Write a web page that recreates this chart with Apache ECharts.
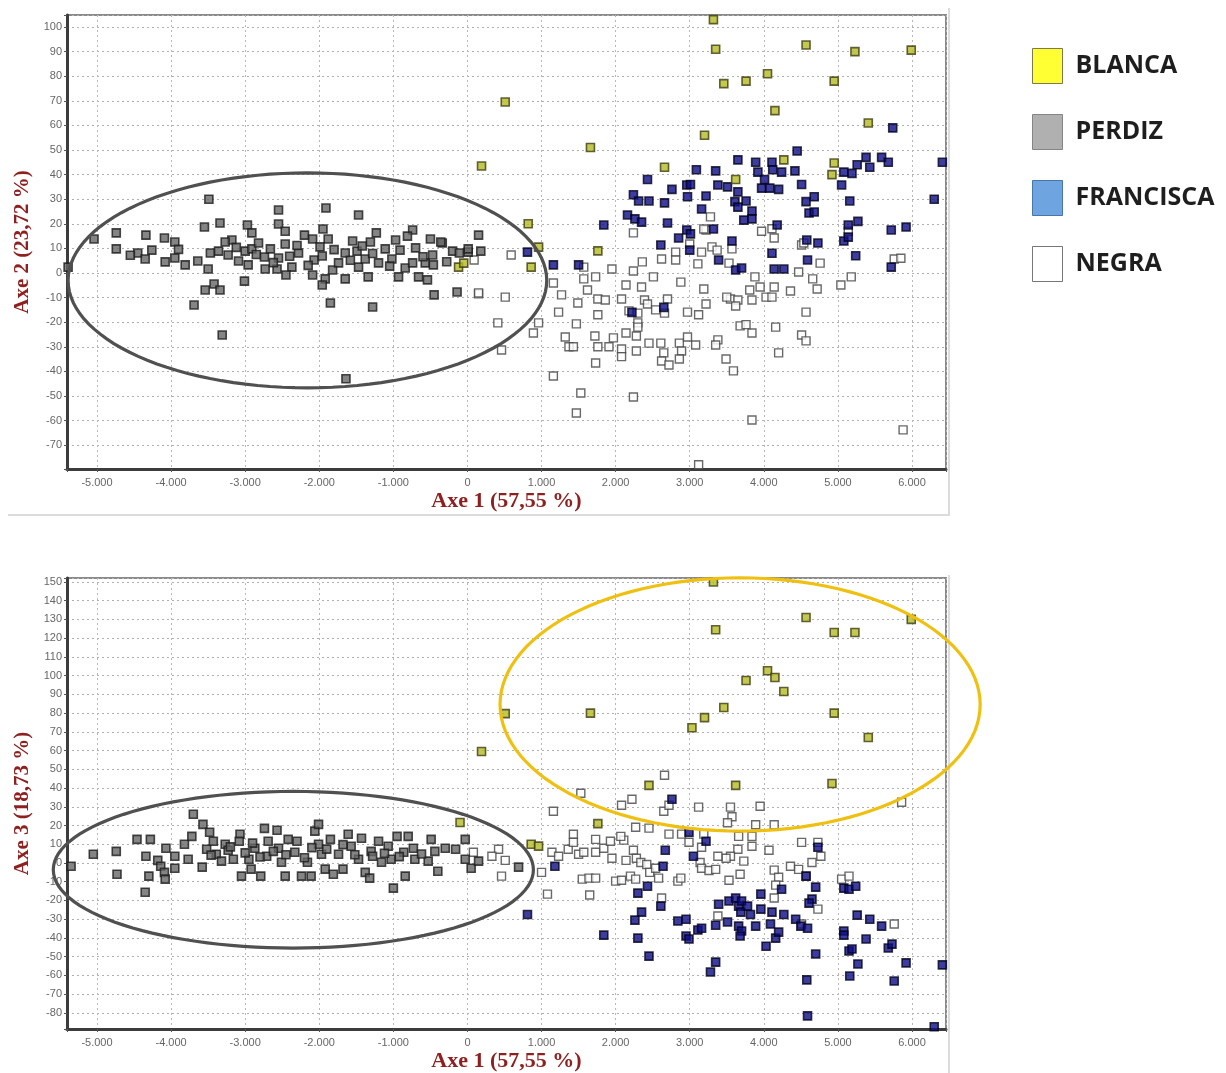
<!DOCTYPE html>
<html>
<head>
<meta charset="utf-8">
<script src="https://cdn.jsdelivr.net/npm/echarts@6/dist/echarts.min.js"></script>
<style>
html,body{margin:0;padding:0;background:#fff;}
#chart{width:1226px;height:1073px;}
</style>
</head>
<body>
<div id="chart"></div>
<script>
// ---------- DATA ----------
const categories = ['BLANCA', 'PERDIZ', 'FRANCISCA', 'NEGRA'];
const axisNames = ['Axe 1 (57,55 %)', 'Axe 2 (23,72 %)', 'Axe 3 (18,73 %)'];
const xTicks = [-5, -4, -3, -2, -1, 0, 1, 2, 3, 4, 5, 6];

// Axe 1 vs Axe 2 (top panel)
const blancaAxe12 = [
  [3.32,103],[3.35,91],[4.57,92.7],[5.23,90],[5.99,90.6],[3.46,77],[3.76,78],[4.05,81],
  [4.95,78],[4.15,66],[5.41,61],[3.20,56],[0.51,69.5],[1.66,51],[0.19,43.5],[2.66,43],
  [4.27,46],[4.95,44.7],[4.92,40],[3.62,38],[0.82,20],[1.76,9],[0.96,10.5],[-0.12,2.4],
  [-0.05,4],[0.86,2.4]
];
const perdizAxe12 = [
  [-3.49,30],[-2.55,25.6],[-1.91,26.4],[-1.47,23.6],[0.15,15.4],[-4.74,16.3],[-4.74,9.8],
  [-5.04,13.8],[-4.34,15.4],[-4.09,14.2],[-3.95,12.6],[-3.55,18.7],[-3.34,20.3],[-2.55,19.9],
  [-2.46,17],[-2.97,19.5],[-2.91,16.3],[-1.95,17.9],[-1.88,13.8],[-1.23,16.3],[-0.74,17.5],
  [-0.81,15],[-0.5,13.8],[-0.34,12.2],[-0.2,8.9],[0.01,8.5],[-4.45,8.1],[-4.35,5.7],
  [-4.26,9.3],[-4.08,4.5],[-3.95,6.1],[-3.81,3.3],[-3.64,4.9],[-3.5,1.6],[-3.47,8.1],
  [-3.36,8.9],[-3.23,7.3],[-3.18,13.4],[-3.27,12.6],[-3.09,4.9],[-2.96,3.3],[-3.0,8.9],
  [-2.91,9.8],[-2.82,12.2],[-2.74,6.5],[-2.73,1.6],[-2.66,9.8],[-2.57,1.6],[-2.55,6.1],
  [-2.46,11.8],[-2.37,2.4],[-2.45,-0.8],[-2.28,8.1],[-2.2,15.4],[-2.09,13.8],[-2.07,5.3],
  [-2.09,-0.8],[-1.99,10.6],[-1.96,6.9],[-1.92,-2.4],[-1.96,-4.9],[-1.82,1.2],[-1.74,4.1],
  [-1.65,-2.4],[-1.65,8.1],[-1.55,13],[-1.49,8.9],[-1.47,2.4],[-1.38,5.7],[-1.34,-1.6],
  [-1.31,12.6],[-1.2,4.1],[-1.11,9.8],[-1.02,5.7],[-0.97,13.4],[-0.93,-1.6],[-0.91,9.3],
  [-0.84,2],[-0.74,4.1],[-0.66,-1.6],[-0.57,4.1],[-0.54,-2.8],[-0.47,7.3],[-0.46,3.3],
  [-0.36,12.6],[-0.11,8.1],[0.01,9.8],[0.18,8.9],[-0.45,-8.9],[-0.14,-7.7],[-1.28,-13.8],
  [-1.85,-12.2],[-3.01,-3.3],[-3.54,-6.9],[-3.42,-4.5],[-3.34,-6.9],[-3.69,-13],[-3.31,-25.2],
  [-1.64,-43],[-5.39,2.4],[-2.85,7.5],[-2.62,4.2],[-2.4,6.8],[-2.15,3.1],[-1.8,9.5],
  [-1.58,5.2],[-1.28,7.9],[-1.05,2.8],[-0.7,10.2],[-0.28,4.6],[-3.12,10.4],[-2.3,11.2],
  [-1.42,11.0],[-0.6,6.6],[-4.55,7.2],[-3.9,9.6]
];
const franciscaAxe12 = [
  [5.74,59],[4.45,49.6],[3.65,46],[3.89,45],[4.11,45],[5.38,47],[5.59,47],[5.68,45],[6.41,45],
  [5.26,44],[5.43,43],[3.09,42],[3.35,41.5],[3.92,41],[4.12,42],[4.24,41],[4.42,41.5],[5.08,41],
  [5.19,40.5],[2.43,38],[4.01,38],[4.51,36],[5.05,35.8],[2.76,34],[2.96,35.8],[3.01,36],
  [3.38,35.8],[3.51,35],[3.97,34.5],[4.08,34.5],[4.20,34],[3.65,33],[2.24,31.8],[2.31,29.3],
  [2.45,29.3],[2.66,28.5],[2.97,31],[3.22,31.3],[3.61,29],[3.76,29.3],[3.65,26.8],[4.57,29],
  [4.68,31],[5.16,29.3],[6.30,30],[3.16,26],[3.84,25.2],[4.61,24.4],[4.68,24.8],[2.16,23.6],
  [2.26,22],[2.35,20.7],[2.70,20.3],[3.73,21.5],[3.84,22],[4.18,19.5],[5.14,19.5],[5.27,21],
  [5.92,18.7],[5.72,17.5],[1.84,19.5],[2.85,14.2],[2.96,17.5],[3.01,15.9],[3.32,17.9],
  [3.57,13],[2.61,11.4],[4.58,13.4],[4.73,12.2],[5.08,13],[5.14,14.6],[3.0,9.3],[4.11,8],
  [4.59,5.3],[5.24,7],[5.72,2.4],[3.39,5.3],[3.62,1.2],[3.70,2],[4.14,1.6],[4.27,1.6],
  [1.16,3.3],[1.50,3.3],[0.81,8.5],[2.65,-14],[2.22,-16]
];
const negraAxe12 = [
  [2.24,16.3],[3.28,22.8],[3.22,17.5],[4.14,14.2],[3.0,11.8],[3.30,10.6],[3.37,9.3],[3.57,9.8],
  [3.16,8.5],[2.81,8.5],[2.62,5.7],[2.81,5.3],[3.11,3.7],[3.53,4],[4.51,11.4],[4.76,4],
  [5.76,5.7],[0.59,7.3],[0.09,5.3],[2.36,4.5],[1.95,1.6],[2.24,0.8],[1.57,2.4],[2.51,-1.6],
  [2.88,-3.7],[3.88,-1.6],[4.14,-5.7],[4.47,0.4],[4.66,-2.4],[5.18,-1.6],[5.04,-4.9],
  [4.72,-6.5],[4.36,-7.3],[3.95,-5.7],[3.81,-6.9],[4.03,-9.8],[4.11,-9.8],[3.55,-10.6],
  [3.65,-11],[3.84,-11],[3.50,-9.8],[3.19,-6.5],[2.35,-5.7],[2.14,-4.9],[1.73,-1.6],
  [1.57,-2.4],[1.27,-8.9],[1.16,-4.1],[1.49,-12.2],[1.62,-6.9],[1.76,-10.6],[1.86,-11],
  [2.08,-10.6],[2.39,-11],[2.43,-12.6],[2.70,-10.6],[2.54,-15],[2.66,-16.3],[2.30,-16.3],
  [2.18,-15.4],[2.97,-15.9],[3.12,-17],[3.22,-12.6],[3.62,-13.4],[4.57,-15.9],[1.23,-15.9],
  [1.76,-17],[1.47,-20.7],[2.30,-20.3],[2.30,-22],[0.96,-20.3],[0.89,-24.4],[0.51,-9.8],
  [0.15,-8.5],[0.41,-20.3],[0.46,-31.3],[1.32,-26],[1.37,-30],[1.43,-30],[1.72,-25.6],
  [1.76,-30],[1.91,-30],[1.97,-26.4],[2.08,-30.9],[2.08,-34],[2.14,-24.4],[2.28,-31.7],
  [2.28,-25.6],[2.45,-28.5],[2.61,-28.5],[2.65,-32.5],[2.62,-35.8],[2.72,-37.4],[2.86,-28.5],
  [2.89,-31.7],[2.86,-35],[2.97,-26],[3.08,-29.3],[3.38,-27.2],[3.35,-29.3],[3.49,-35],
  [3.59,-39.8],[1.73,-36.6],[4.20,-32.5],[4.16,-22],[3.84,-24.4],[3.68,-21.5],[3.76,-21],
  [4.51,-25.2],[4.57,-27.6],[1.16,-41.9],[1.53,-48.8],[2.24,-50.4],[1.47,-56.9],[3.84,-59.8],
  [5.88,-63.8],[3.12,-78],[4.11,18],[3.97,17],[3.19,17.9],[5.14,17],[4.54,12.2],[5.85,6],
  [0.15,-8.1]
];

// Axe 1 vs Axe 3 (bottom panel)
const blancaAxe13 = [
  [3.32,150],[4.57,131],[5.99,130],[3.35,124.5],[4.95,123],[5.23,123],[4.05,102.6],[4.15,99],
  [3.76,97.4],[4.27,91.5],[3.46,83],[3.20,77.6],[3.03,72.2],[4.95,80],[5.41,67],[1.66,80],
  [0.51,79.7],[0.19,59.5],[2.45,41.4],[3.62,41.4],[4.92,42.4],[1.76,21],[0.86,10],[0.96,9],
  [-0.1,21.6]
];
const perdizAxe13 = [
  [-5.35,-1.7],[-5.05,4.7],[-4.74,6.2],[-4.73,-6],[-4.46,12.6],[-4.28,12.6],[-4.34,3.6],
  [-4.3,-7],[-4.35,-15.6],[-4.07,7.9],[-4.18,1.4],[-4.14,-1.7],[-4.09,-5],[-4.08,-8.6],
  [-3.95,3.6],[-3.95,-2.8],[-3.82,10],[-3.77,2],[-3.72,14.2],[-3.7,26],[-3.58,-2.2],
  [-3.57,20.6],[-3.48,16.4],[-3.52,7.3],[-3.43,11.6],[-3.39,4.7],[-3.32,1],[-3.27,10],
  [-3.23,6.8],[-3.16,2],[-3.07,15.3],[-3.08,11.6],[-3.05,-7],[-2.95,2],[-2.92,-3.3],
  [-2.87,7.9],[-2.79,-7],[-2.74,18.5],[-2.71,3.6],[-2.69,11.6],[-2.57,17.5],[-2.55,7.9],
  [-2.51,0.4],[-2.46,-7],[-2.42,12.6],[-2.33,5.7],[-2.3,11.6],[-2.24,-7],[-2.16,0.4],
  [-2.11,-7],[-2.06,17],[-2.01,20.6],[-2.01,10],[-1.97,4.7],[-1.92,-3.3],[-1.85,12.6],
  [-1.81,-6],[-1.74,4.7],[-1.68,-3.3],[-1.61,15.3],[-1.57,8.9],[-1.47,2],[-1.43,13.2],
  [-1.38,-5],[-1.32,-8.1],[-1.3,6.2],[-1.2,11.6],[-1.16,0.4],[-1.07,8.9],[-1.03,2],
  [-1.0,-13.4],[-0.95,14.2],[-0.84,-7],[-0.86,5.7],[-0.8,14.2],[-0.73,7.9],[-0.71,2],
  [-0.53,1],[-0.49,12.6],[-0.44,6.2],[-0.4,-4.4],[-0.3,7.9],[-0.16,7.3],[-0.03,12.6],
  [-0.03,2],[0.05,-2.8],[0.15,1],[0.69,-2.2],[-3.46,4.2],[-3.2,8.6],[-3.0,5.4],[-2.8,3.2],
  [-2.62,6.2],[-2.45,4.4],[-2.2,2.8],[-1.9,7.4],[-1.68,9.8],[-1.52,4.4],[-1.28,3.6],
  [-1.12,5.2],[-0.92,3.4],[-0.62,4.8],[-2.9,10.6],[-2.1,8.2]
];
const franciscaAxe13 = [
  [0.81,-27.5],[1.18,-1.7],[1.84,-38.5],[2.30,-16.1],[2.43,-12.4],[2.35,-26.2],[2.26,-30.5],
  [2.30,-40.1],[2.45,-49.7],[2.61,-23],[2.64,-1.7],[2.67,6.8],[2.76,34],[2.84,-31],[2.95,-30],
  [2.95,-39],[2.99,-40.6],[3.11,-35.8],[3.16,-34.8],[3.05,3.6],[3.22,11.6],[3.35,-52.9],
  [3.28,-58.2],[3.35,-33.2],[3.39,-22],[3.51,-31.5],[3.53,-20.3],[3.62,-18.7],[3.66,-23],
  [3.69,-26.2],[3.70,-20.3],[3.78,-23],[3.82,-27.5],[3.66,-33.7],[3.70,-36.3],[3.68,-39],
  [3.89,-33.7],[3.96,-24.6],[3.96,-16.6],[4.03,-44.4],[4.09,-32.6],[4.11,-26.2],[4.16,-40.1],
  [4.20,-36.9],[4.24,-14],[4.27,-27.5],[4.43,-30],[4.50,-33.7],[4.59,-34.8],[4.57,-7],
  [4.70,-12.9],[4.65,-19.3],[4.61,-21.4],[4.70,-48.6],[4.58,-62.4],[4.59,-81.6],[4.73,8.4],
  [5.08,-13.4],[5.15,-14],[5.24,-12.4],[5.26,-27.8],[5.08,-36.3],[5.08,-38.5],[5.15,-47],
  [5.19,-45.9],[5.27,-53.9],[5.16,-60.3],[5.38,-40.6],[5.43,-30],[5.59,-33.7],[5.68,-45.4],
  [5.73,-43.3],[5.76,-63],[5.92,-53.3],[6.41,-54.4],[6.30,-87.4],[2.99,16.4]
];
const negraAxe13 = [
  [2.66,46.8],[1.16,27.6],[2.22,34],[2.08,30.8],[2.65,27.6],[2.72,30.8],[3.12,29.8],[3.55,29.8],
  [3.95,30.3],[5.86,32.4],[1.53,37.2],[3.57,24.7],[3.51,21.5],[3.89,20.4],[4.14,20.4],
  [2.27,19.1],[2.45,18.6],[2.72,15.4],[2.89,15.4],[3.19,15.4],[2.99,11.1],[3.16,8.4],
  [3.66,14.2],[3.84,14.2],[3.84,8.9],[4.07,6.8],[3.65,7.3],[3.55,3.6],[3.49,2.5],[3.73,1],
  [3.38,3.6],[3.14,0.3],[3.16,-2.8],[3.26,-4],[3.35,-3.4],[3.68,-6],[3.53,-9.2],[2.84,-9.7],
  [2.88,-8.1],[2.62,-18.7],[4.14,-3.8],[4.2,-7.6],[4.16,-11.8],[4.14,-18.7],[4.36,-1.7],
  [4.47,-3.4],[4.51,11],[4.73,11],[4.77,3.6],[4.65,0.3],[4.57,-7],[4.73,-24.6],[4.51,-32.6],
  [5.05,-8.6],[5.15,-7],[5.76,-32.6],[3.38,-28.3],[1.08,-16.6],[1.65,-17.1],[1.0,-5],
  [0.46,-7],[0.51,1.4],[1.14,5.7],[1.23,3.6],[1.36,7.3],[1.43,15.3],[1.5,4.7],[1.57,5.7],
  [1.73,12.6],[1.73,5.7],[1.84,7.9],[1.95,2.5],[2.11,12.2],[2.07,14.2],[2.14,1.4],[2.24,6.8],
  [2.28,2.5],[2.34,0.3],[2.42,-0.8],[2.46,-5],[2.54,-2.8],[2.58,-8.1],[1.55,-8.6],[1.64,-8.1],
  [1.73,-8.1],[2.0,-9.7],[2.08,-9.2],[2.2,-7],[2.27,-8.6],[1.93,11.6],[1.43,11],[0.42,7.3],
  [0.08,5.7],[0.33,3.6]
];

// Confidence ellipses: [centre Axe 1, centre Axe y, radius Axe 1, radius Axe y]
const ellipsePerdizAxe12 = [[-2.16, -3.0, 3.23, 43.7]];
const ellipsePerdizAxe13 = [[-2.35, -3.6, 3.24, 41.8]];
const ellipseBlancaAxe13 = [[3.68, 84.6, 3.24, 67.6]];

// ---------- STYLES ----------
const markerStyle = {
  BLANCA:    { color: '#b4bb24', borderColor: '#3c3c10', borderWidth: 1.6 },
  PERDIZ:    { color: '#666666', borderColor: '#1c1c1c', borderWidth: 1.6 },
  FRANCISCA: { color: '#0c0c88', borderColor: '#02021a', borderWidth: 1.6 },
  NEGRA:     { color: '#ffffff', borderColor: '#444444', borderWidth: 1.4 }
};
const legendStyle = {
  BLANCA:    { color: '#ffff00', borderColor: '#5a5a3a', borderWidth: 1 },
  PERDIZ:    { color: '#9c9c9c', borderColor: '#707070', borderWidth: 1 },
  FRANCISCA: { color: '#4a8fd8', borderColor: '#2d5f95', borderWidth: 1 },
  NEGRA:     { color: '#ffffff', borderColor: '#555555', borderWidth: 1 }
};

const chart = echarts.init(document.getElementById('chart'), null, { renderer: 'canvas' });

function xAxisCfg(gridIndex) {
  return {
    gridIndex, type: 'value', min: -5.405, max: 6.459, minInterval: 1, maxInterval: 1,
    name: axisNames[0], nameLocation: 'middle', nameGap: 21,
    nameTextStyle: { fontFamily: 'Liberation Serif', fontWeight: 'bold', fontSize: 22, color: '#8e2020' },
    axisLine: { show: true, onZero: false, lineStyle: { color: '#3c3c3c', width: 3 } },
    axisTick: { show: true, length: 3, lineStyle: { color: '#555' } },
    axisLabel: {
      margin: 8, fontFamily: 'Liberation Sans', fontSize: 11, color: '#666',
      formatter: v => {
        const r = Math.round(v);
        if (Math.abs(v - r) > 1e-6 || xTicks.indexOf(r) < 0) return '';
        return r === 0 ? '0' : r + '.000';
      }
    },
    splitLine: { show: true, lineStyle: { color: '#b8b8b8', width: 1, type: [2, 3] } }
  };
}
function yAxisCfg(gridIndex, min, max, name) {
  return {
    gridIndex, type: 'value', min, max, minInterval: 10, maxInterval: 10,
    name, nameLocation: 'middle', nameGap: 34,
    nameTextStyle: { fontFamily: 'Liberation Serif', fontWeight: 'bold', fontSize: 21, color: '#8e2020' },
    axisLine: { show: true, onZero: false, lineStyle: { color: '#3c3c3c', width: 3 } },
    axisTick: { show: true, length: 3, lineStyle: { color: '#555' } },
    axisLabel: {
      margin: 5, fontFamily: 'Liberation Sans', fontSize: 11, color: '#666',
      formatter: v => (Math.abs(v - Math.round(v / 10) * 10) < 1e-6 ? String(Math.round(v)) : '')
    },
    splitLine: { show: true, lineStyle: { color: '#b0b0b0', width: 1, type: [2, 3] } }
  };
}

function scatter(name, data, idx) {
  return {
    name, type: 'scatter', data, xAxisIndex: idx, yAxisIndex: idx,
    symbol: 'rect', symbolSize: 8, itemStyle: markerStyle[name], silent: true, animation: false
  };
}
function ellipse(data, idx, color) {
  return {
    type: 'custom', xAxisIndex: idx, yAxisIndex: idx, clip: false, silent: true, z: 5,
    data, animation: false,
    renderItem: (params, api) => {
      const c = api.coord([api.value(0), api.value(1)]);
      const s = api.size([api.value(2), api.value(3)]);
      const pts = [];
      for (let i = 0; i < 120; i++) {
        const t = (i / 120) * Math.PI * 2;
        pts.push([c[0] + s[0] * Math.cos(t), c[1] + s[1] * Math.sin(t)]);
      }
      return { type: 'polygon', shape: { points: pts }, style: { fill: 'none', stroke: color, lineWidth: 3.2 } };
    }
  };
}

const option = {
  backgroundColor: '#ffffff',
  animation: false,
  grid: [
    { left: 67, top: 15, width: 879, height: 454, show: true, borderColor: '#8a8a8a', borderWidth: 2 },
    { left: 67, top: 578, width: 879, height: 452, show: true, borderColor: '#8a8a8a', borderWidth: 2 }
  ],
  xAxis: [xAxisCfg(0), xAxisCfg(1)],
  yAxis: [
    yAxisCfg(0, -79.7, 104.9, axisNames[1]),
    yAxisCfg(1, -88.6, 152.1, axisNames[2])
  ],
  legend: {
    orient: 'vertical', left: 1032, top: 48, padding: 0, itemWidth: 30, itemHeight: 35, itemGap: 30,
    icon: 'rect', selectedMode: false,
    textStyle: { fontFamily: 'Open Sans', fontWeight: 'bold', fontSize: 25, color: '#1e1e1e', padding: [0, 0, 0, 8] },
    data: categories.map(n => ({ name: n, itemStyle: legendStyle[n] }))
  },
  graphic: [
    { type: 'line', shape: { x1: 8, y1: 515, x2: 950, y2: 515 }, style: { stroke: '#dcdcdc', lineWidth: 2 } },
    { type: 'line', shape: { x1: 949, y1: 8, x2: 949, y2: 515 }, style: { stroke: '#dcdcdc', lineWidth: 2 } },
    { type: 'line', shape: { x1: 949, y1: 575, x2: 949, y2: 1073 }, style: { stroke: '#dcdcdc', lineWidth: 2 } }
  ],
  series: [
    scatter('NEGRA', negraAxe12, 0),
    scatter('PERDIZ', perdizAxe12, 0),
    scatter('FRANCISCA', franciscaAxe12, 0),
    scatter('BLANCA', blancaAxe12, 0),
    scatter('NEGRA', negraAxe13, 1),
    scatter('PERDIZ', perdizAxe13, 1),
    scatter('FRANCISCA', franciscaAxe13, 1),
    scatter('BLANCA', blancaAxe13, 1),
    ellipse(ellipsePerdizAxe12, 0, '#505050'),
    ellipse(ellipsePerdizAxe13, 1, '#505050'),
    ellipse(ellipseBlancaAxe13, 1, '#f0c010')
  ]
};
chart.setOption(option);
</script>
</body>
</html>
